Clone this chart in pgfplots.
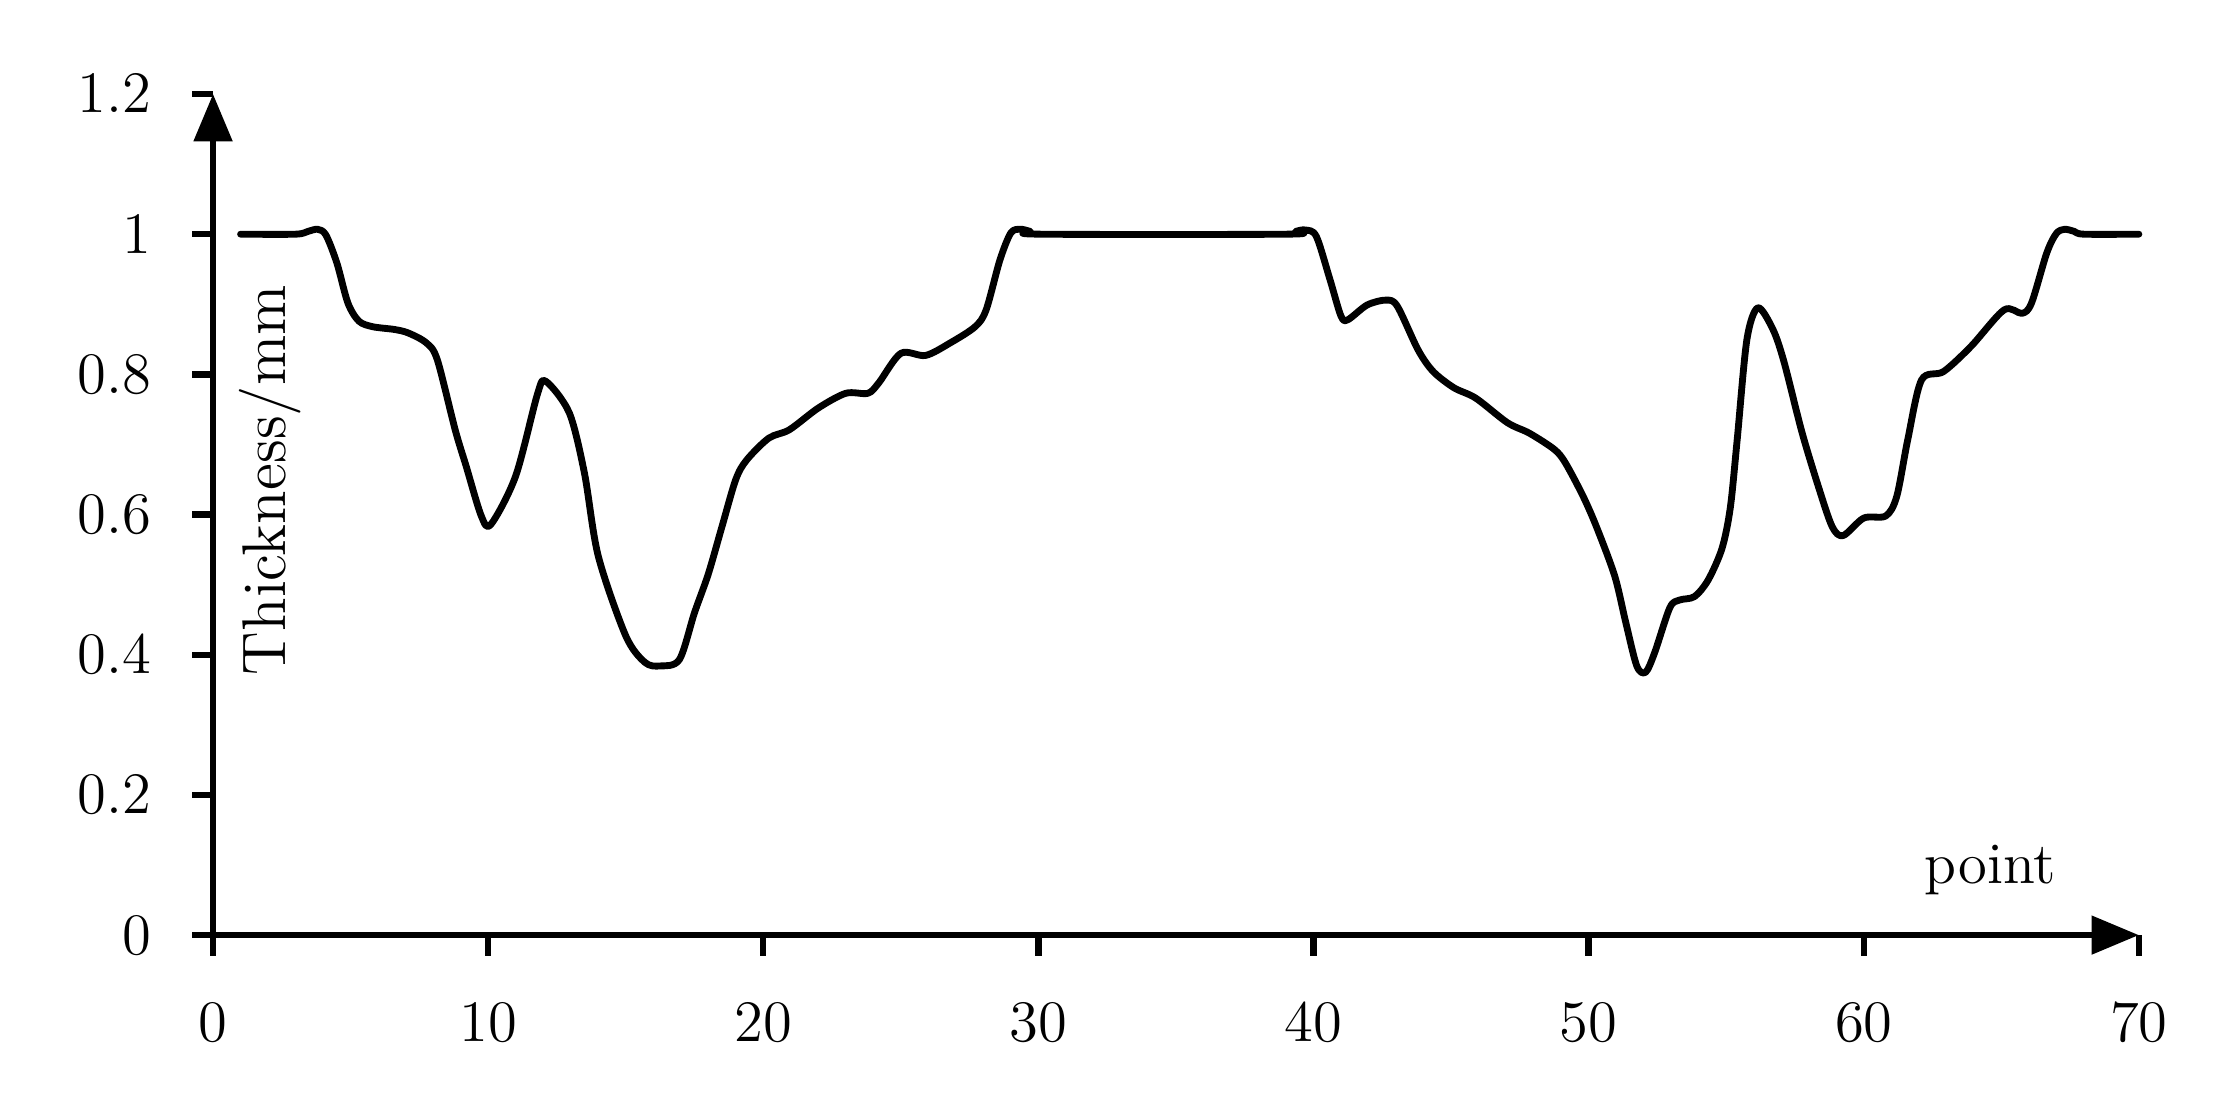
\documentclass[border=0pt]{standalone}
\usepackage{pgfplots}
\pgfplotsset{compat=1.18}
\usetikzlibrary{arrows.meta}

\pgfplotstableread{
x y
1 1
3 1
3.45 1.004
3.8 1.007
4.1 0.999
4.5 0.959
4.9 0.902
5.3 0.876
5.8 0.868
6.6 0.864
7.1 0.859
7.75 0.845
8.15 0.821
8.8 0.721
9.2 0.669
9.75 0.598
10.1 0.586
11.0 0.655
11.8 0.773
12.1 0.790
12.95 0.745
13.5 0.659
14.0 0.541
15.0 0.427
15.7 0.389
16.25 0.384
16.95 0.393
17.5 0.46
18.0 0.515
18.5 0.583
19.0 0.650
19.4 0.678
20.2 0.709
20.95 0.721
22.0 0.752
23.0 0.773
23.8 0.773
24.2 0.788
25.0 0.83
25.9 0.827
26.8 0.845
27.7 0.868
28.1 0.892
28.6 0.963
29.0 1.002
29.35 1.007
29.7 1.004
30.1 1
39 1
39.35 1.004
39.7 1.006
40.1 0.997
40.6 0.935
41.0 0.883
41.25 0.878
41.95 0.899
42.65 0.906
43.05 0.897
43.8 0.835
44.35 0.804
45.1 0.781
45.9 0.766
47.05 0.731
47.85 0.716
48.75 0.693
49.15 0.674
49.8 0.626
50.3 0.581
50.95 0.512
51.35 0.446
51.75 0.384
52.07 0.375
52.4 0.403
52.95 0.467
53.3 0.478
53.85 0.483
54.35 0.507
54.85 0.552
55.15 0.610
55.4 0.707
55.75 0.849
56.15 0.895
56.7 0.864
57.1 0.818
57.75 0.718
58.35 0.64
58.85 0.583
59.25 0.57
60.0 0.595
60.8 0.598
61.2 0.626
61.6 0.707
62.1 0.792
62.9 0.804
63.9 0.84
65.1 0.892
65.75 0.887
66.1 0.902
66.65 0.973
67.0 1.001
67.3 1.007
67.65 1.004
68.0 1.0
70 1
}\thick

\begin{document}
\begin{tikzpicture}
\begin{axis}[
  scale only axis, width=13.83cm, height=6.04cm,
  font=\fontsize{12}{14}\selectfont,
  xmin=0, xmax=70, ymin=0, ymax=1.2,
  xtick={0,10,...,70}, ytick={0,0.2,...,1.2},
  axis lines=left,
  axis line style={line width=1.3pt,-{Triangle[length=0.34cm,width=0.27cm]}},
  tick align=outside, major tick length=0.15cm,
  tick style={line width=1.3pt,black},
  xticklabel style={yshift=-0.22cm},
  yticklabel style={xshift=-0.17cm},
  clip=false,
]
\addplot[black, line width=1.4pt, line cap=round, line join=round, smooth, tension=0.5] table {\thick};
\node[anchor=center] at (axis cs:64.6,0.093) {point};
\node[rotate=90, anchor=center, font=\fontsize{12.6}{14}\selectfont] at (axis cs:2.07,0.649) {Thickness/mm};
\coordinate (BL) at (rel axis cs:0,0);
\coordinate (TR) at (rel axis cs:1,1);
\end{axis}
\pgfresetboundingbox
\path ([xshift=-1.53cm,yshift=-1.30cm]BL) rectangle ([xshift=0.64cm,yshift=0.675cm]TR);
\end{tikzpicture}
\end{document}
